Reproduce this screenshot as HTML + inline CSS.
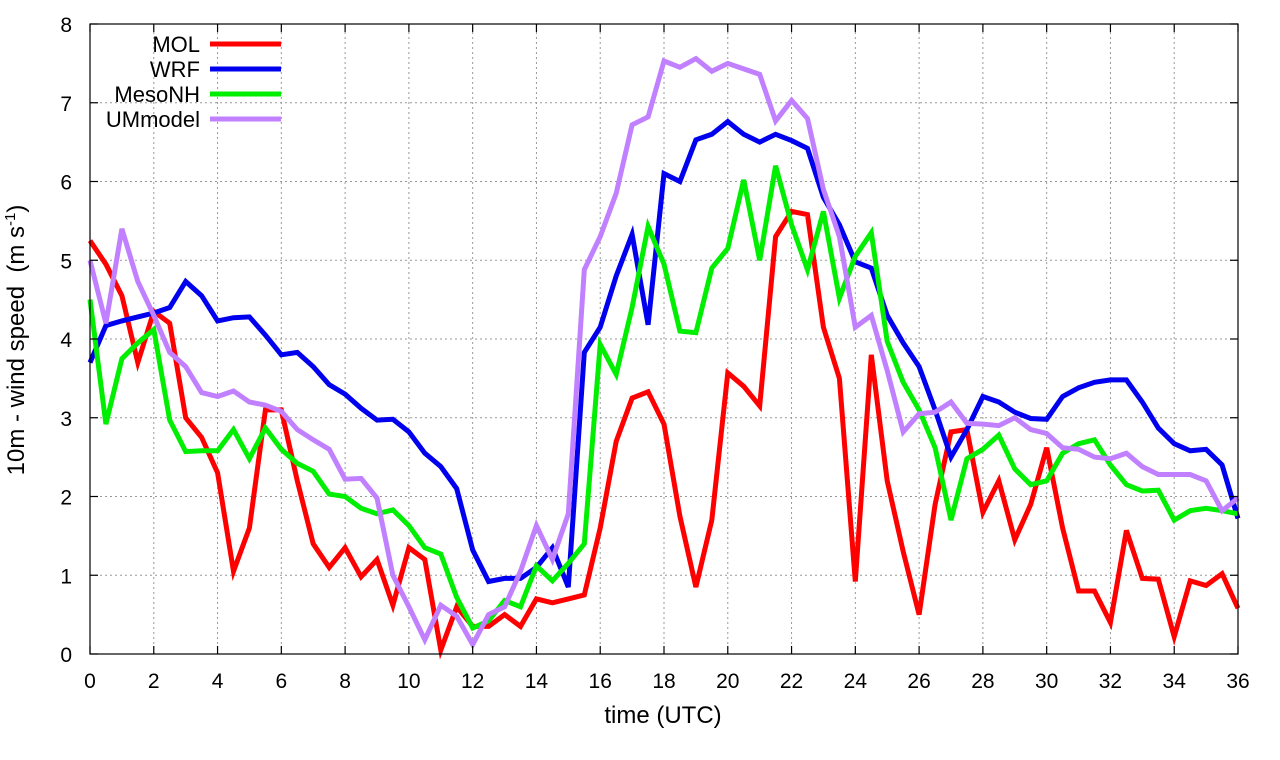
<!DOCTYPE html>
<html><head><meta charset="utf-8"><style>
body{margin:0;background:#fff}
svg{display:block;font-family:"Liberation Sans",sans-serif}
</style></head><body>
<svg id="chart" width="1280" height="760" viewBox="0 0 1280 760">
<g id="grid"></g>
<g id="series"></g>
<rect x="90" y="24" width="1148" height="630" fill="none" stroke="#000" stroke-width="1.2"/>
<g id="ticks"></g>
<text x="663" y="723" font-size="24" text-anchor="middle">time (UTC)</text>
<text transform="translate(24,340) rotate(-90)" font-size="24" text-anchor="middle" xml:space="preserve">10m - wind speed  (m s<tspan font-size="15" dy="-9">-1</tspan><tspan dy="9">)</tspan></text>
<g id="legend"></g>
</svg>
<script>
const times = Array.from({length:73},(_,i)=>i*0.5);
const seriesNames = ["MOL","WRF","MesoNH","UMmodel"];
const seriesColors = ["#ff0000","#0000ee","#00ee00","#c080ff"];
const mol = [5.25,4.95,4.55,3.7,4.35,4.2,3.0,2.75,2.3,1.05,1.6,3.1,3.1,2.2,1.4,1.1,1.35,0.98,1.2,0.62,1.35,1.2,0.05,0.6,0.35,0.35,0.5,0.35,0.7,0.65,0.7,0.75,1.6,2.7,3.25,3.33,2.92,1.75,0.85,1.7,3.57,3.4,3.15,5.3,5.62,5.58,4.15,3.5,0.92,3.8,2.2,1.3,0.5,1.9,2.82,2.85,1.8,2.2,1.45,1.9,2.62,1.6,0.8,0.8,0.4,1.57,0.96,0.95,0.22,0.93,0.87,1.02,0.58];
const wrf = [3.7,4.17,4.23,4.28,4.33,4.4,4.73,4.55,4.23,4.27,4.28,4.05,3.8,3.83,3.65,3.42,3.3,3.12,2.97,2.98,2.82,2.55,2.38,2.1,1.32,0.92,0.96,0.96,1.1,1.35,0.85,3.83,4.15,4.8,5.33,4.18,6.1,6.0,6.53,6.6,6.76,6.6,6.5,6.6,6.52,6.42,5.8,5.45,4.98,4.9,4.3,3.95,3.65,3.1,2.5,2.85,3.27,3.2,3.07,2.99,2.98,3.27,3.38,3.45,3.48,3.48,3.2,2.87,2.67,2.58,2.6,2.4,1.72];
const mesonh = [4.5,2.92,3.75,3.95,4.12,2.97,2.57,2.58,2.58,2.85,2.48,2.87,2.6,2.42,2.32,2.03,2.0,1.85,1.78,1.83,1.63,1.35,1.27,0.72,0.33,0.42,0.68,0.6,1.12,0.93,1.15,1.4,3.93,3.55,4.4,5.43,4.95,4.1,4.08,4.9,5.15,6.02,5.0,6.2,5.45,4.88,5.62,4.52,5.05,5.35,3.97,3.45,3.1,2.62,1.7,2.48,2.6,2.78,2.35,2.15,2.2,2.55,2.67,2.72,2.4,2.15,2.07,2.08,1.7,1.82,1.85,1.82,1.78];
const ummodel = [5.0,4.2,5.4,4.73,4.3,3.83,3.65,3.32,3.27,3.34,3.2,3.16,3.08,2.85,2.72,2.6,2.22,2.23,1.98,1.0,0.6,0.18,0.62,0.48,0.12,0.5,0.6,1.05,1.63,1.2,1.78,4.88,5.3,5.85,6.72,6.82,7.53,7.45,7.56,7.4,7.5,7.43,7.36,6.77,7.03,6.8,5.9,5.3,4.15,4.3,3.6,2.82,3.05,3.07,3.2,2.93,2.92,2.9,3.0,2.85,2.8,2.62,2.6,2.5,2.48,2.55,2.38,2.28,2.28,2.28,2.2,1.82,1.98];
const xTicks = [0,2,4,6,8,10,12,14,16,18,20,22,24,26,28,30,32,34,36];
const yTicks = [0,1,2,3,4,5,6,7,8];

const NS="http://www.w3.org/2000/svg";
const X0=90,X1=1238,Y0=654,Y1=24;
const xs=t=>X0+(t-0)/36*(X1-X0);
const ys=v=>Y0-(v-0)/8*(Y0-Y1);
function mk(tag,attrs,parent){const e=document.createElementNS(NS,tag);for(const k in attrs)e.setAttribute(k,attrs[k]);parent.appendChild(e);return e;}
const grid=document.getElementById('grid'),ticks=document.getElementById('ticks'),ser=document.getElementById('series'),leg=document.getElementById('legend');
xTicks.forEach(t=>{
  const x=xs(t);
  if(t>0&&t<36){const g=mk('line',{x1:x,x2:x,y1:Y0,y2:Y1,stroke:'#999','stroke-dasharray':'2,3','stroke-width':1},grid);
  
  }
  const a=mk('line',{x1:x,x2:x,y1:Y0,y2:Y0-8,stroke:'#000','stroke-width':1.2},ticks);
  
  
  const b=mk('line',{x1:x,x2:x,y1:Y1,y2:Y1+8,stroke:'#000','stroke-width':1.2},ticks);
  
  
  const l=mk('text',{x:x,y:688,'font-size':21,'text-anchor':'middle'},ticks);l.textContent=t;
  
  
});
yTicks.forEach(v=>{
  const y=ys(v);
  if(v>0&&v<8){const g=mk('line',{x1:X0,x2:X1,y1:y,y2:y,stroke:'#999','stroke-dasharray':'2,3','stroke-width':1},grid);
  
  }
  const a=mk('line',{x1:X0,x2:X0+8,y1:y,y2:y,stroke:'#000','stroke-width':1.2},ticks);
  
  
  const b=mk('line',{x1:X1,x2:X1-8,y1:y,y2:y,stroke:'#000','stroke-width':1.2},ticks);
  
  
  const l=mk('text',{x:72,y:y+8,'font-size':21,'text-anchor':'end'},ticks);l.textContent=v;
  
  
});
const allSeries=[mol,wrf,mesonh,ummodel];
allSeries.forEach((d,i)=>{
  const pts=d.map((v,j)=>xs(times[j]).toFixed(1)+','+ys(v).toFixed(1)).join(' ');
  const p=mk('polyline',{points:pts,fill:'none',stroke:seriesColors[i],'stroke-width':5,'stroke-linejoin':'miter'},ser);
  
  
  const ly=44+i*25;
  const t=mk('text',{x:200,y:ly+8,'font-size':22,'text-anchor':'end'},leg);t.textContent=seriesNames[i];
  
  
  const s=mk('line',{x1:210,x2:281,y1:ly,y2:ly,stroke:seriesColors[i],'stroke-width':5},leg);
  
  
});
</script>
</body></html>
